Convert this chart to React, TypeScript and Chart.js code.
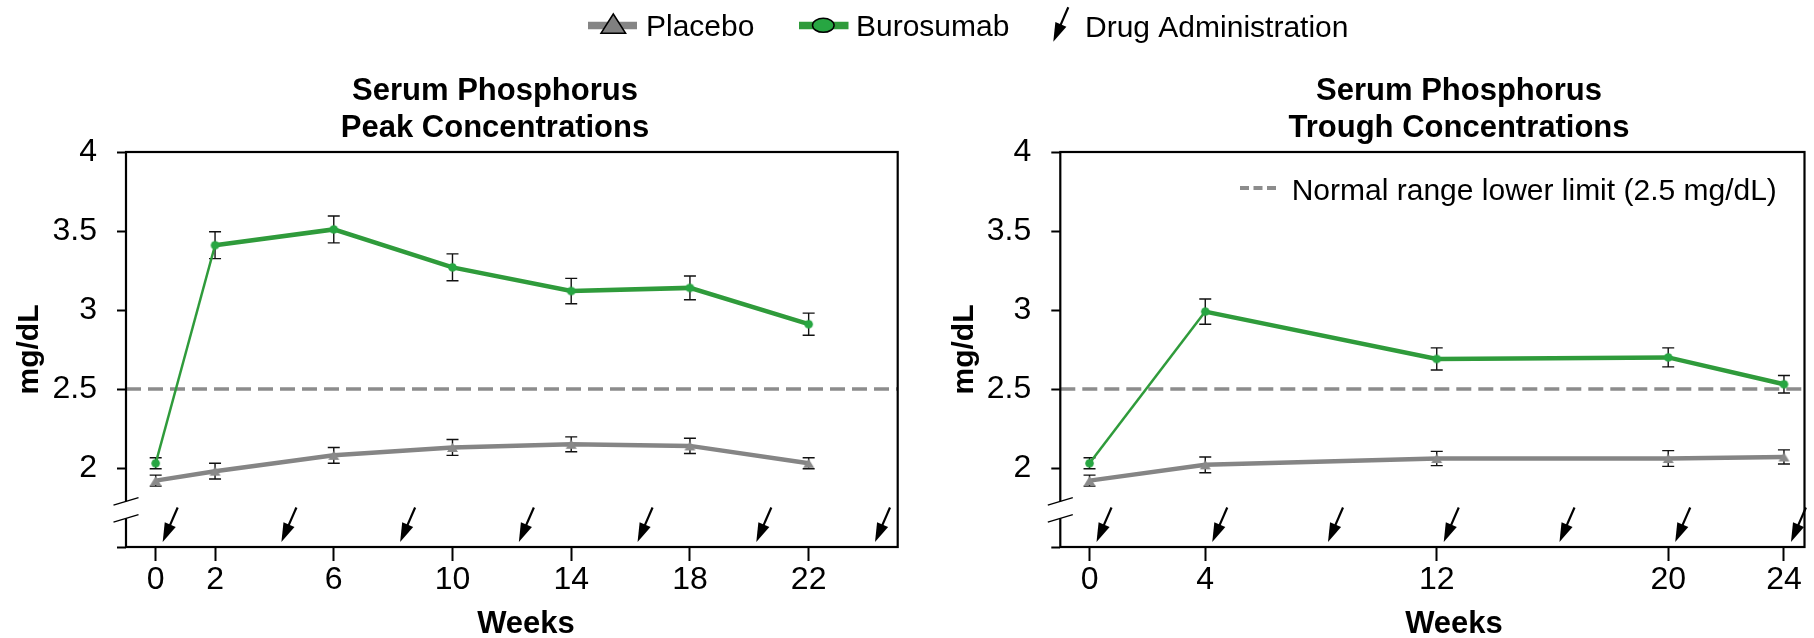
import React, { useEffect, useRef } from 'react';
import { Chart, registerables } from 'chart.js';

Chart.register(...registerables);

// ---------- data ----------
const PEAK_WEEKS = [0, 2, 6, 10, 14, 18, 22];
const PEAK_BURO = [2.03, 3.41, 3.51, 3.27, 3.12, 3.14, 2.91];
const PEAK_BURO_ERR = [0.035, 0.085, 0.085, 0.085, 0.08, 0.075, 0.07];
const PEAK_PLAC = [1.92, 1.98, 2.08, 2.13, 2.15, 2.14, 2.03];
const PEAK_PLAC_ERR = [0.035, 0.05, 0.05, 0.05, 0.047, 0.048, 0.035];
const PEAK_TICKS = [0, 2, 6, 10, 14, 18, 22];
const PEAK_DOSES = [0, 4, 8, 12, 16, 20, 24];

const TROUGH_WEEKS = [0, 4, 12, 20, 24];
const TROUGH_BURO = [2.03, 2.99, 2.69, 2.7, 2.53];
const TROUGH_BURO_ERR = [0.035, 0.08, 0.07, 0.06, 0.055];
const TROUGH_PLAC = [1.92, 2.02, 2.06, 2.06, 2.07];
const TROUGH_PLAC_ERR = [0.035, 0.05, 0.045, 0.05, 0.045];
const TROUGH_TICKS = [0, 4, 12, 20, 24];
const TROUGH_DOSES = [0, 4, 8, 12, 16, 20, 24];

const Y_TICKS = [1.5, 2, 2.5, 3, 3.5, 4];
const Y_LABELS = ['', '2', '2.5', '3', '3.5', '4'];
const NORMAL_LOWER = 2.5;
const Y_BREAK = 1.735;

const TITLE_PEAK = ['Serum Phosphorus', 'Peak Concentrations'];
const TITLE_TROUGH = ['Serum Phosphorus', 'Trough Concentrations'];
const LEGEND_LABELS = ['Placebo', 'Burosumab', 'Drug Administration'];
const NORMAL_LABEL = 'Normal range lower limit (2.5 mg/dL)';
const X_TITLE = 'Weeks';
const Y_TITLE = 'mg/dL';

// ---------- style ----------
const FONT = "'Liberation Sans', Arial, Helvetica, sans-serif";
const PAGE_W = 1814;
const PAGE_H = 638;

const GREEN = '#2f9b3b';
const GREEN_PT = '#27a642';
const GRAY = '#858585';
const GRAY_PT = '#8a8a8a';
const DASH = '#8c8c8c';

const TICK_SIZE = 32;
const LEGEND_SIZE = 30;
const TITLE_SIZE = 31;

type Panel = {
  weeks: number[]; buro: number[]; buroErr: number[]; plac: number[]; placErr: number[];
  ticks: number[]; doses: number[]; xMin: number; xMax: number;
  areaLeft: number; areaRight: number; title: string[]; titleX: number; weeksX: number; legend: 'main' | 'normal';
};

const PEAK: Panel = {
  weeks: PEAK_WEEKS, buro: PEAK_BURO, buroErr: PEAK_BURO_ERR, plac: PEAK_PLAC, placErr: PEAK_PLAC_ERR,
  ticks: PEAK_TICKS, doses: PEAK_DOSES, xMin: -1, xMax: 25,
  areaLeft: 126, areaRight: 897.7, title: TITLE_PEAK, titleX: 495, weeksX: 526, legend: 'main',
};
const TROUGH: Panel = {
  weeks: TROUGH_WEEKS, buro: TROUGH_BURO, buroErr: TROUGH_BURO_ERR, plac: TROUGH_PLAC, placErr: TROUGH_PLAC_ERR,
  ticks: TROUGH_TICKS, doses: TROUGH_DOSES, xMin: -1.01, xMax: 24.71,
  areaLeft: 1060.3, areaRight: 1812, title: TITLE_TROUGH, titleX: 1459, weeksX: 1454, legend: 'normal',
};

const Y_AXIS_W = 126;
const TOP = 152;
const X_AXIS_H = 91;

function makeDot(r: number, fill: string) {
  const c = document.createElement('canvas');
  c.width = Math.ceil(2 * r + 4);
  c.height = Math.ceil(2 * r + 4);
  const g = c.getContext('2d')!;
  g.beginPath();
  g.arc(c.width / 2, c.height / 2, r, 0, Math.PI * 2);
  g.fillStyle = fill;
  g.fill();
  return c;
}

function makeTri(w: number, h: number, fill: string) {
  const c = document.createElement('canvas');
  c.width = Math.ceil(w + 4);
  c.height = Math.ceil(h + 4);
  const g = c.getContext('2d')!;
  const cx = c.width / 2;
  const top = (c.height - h) / 2;
  g.beginPath();
  g.moveTo(cx, top);
  g.lineTo(cx + w / 2, top + h);
  g.lineTo(cx - w / 2, top + h);
  g.closePath();
  g.fillStyle = fill;
  g.fill();
  return c;
}

function drawArrow(ctx: CanvasRenderingContext2D, tipX: number, tipY: number) {
  const tailX = tipX + 15;
  const tailY = tipY - 34.5;
  const dx = tipX - tailX;
  const dy = tipY - tailY;
  const len = Math.hypot(dx, dy);
  const ux = dx / len;
  const uy = dy / len;
  const headLen = 19;
  const halfW = 6;
  const bx = tipX - ux * headLen;
  const by = tipY - uy * headLen;
  ctx.save();
  ctx.strokeStyle = '#000';
  ctx.fillStyle = '#000';
  ctx.lineWidth = 2.2;
  ctx.beginPath();
  ctx.moveTo(tailX, tailY);
  ctx.lineTo(bx + ux * 2, by + uy * 2);
  ctx.stroke();
  ctx.beginPath();
  ctx.moveTo(tipX, tipY);
  ctx.lineTo(bx - uy * halfW, by + ux * halfW);
  ctx.lineTo(bx + uy * halfW, by - ux * halfW);
  ctx.closePath();
  ctx.fill();
  ctx.restore();
}

function panelDecor(p: Panel) {
  return {
    id: 'panelDecor',
    beforeDatasetsDraw(chart: any) {
      const { ctx, chartArea: a, scales } = chart;
      const x = scales.x;
      const y = scales.y;
      ctx.save();
      const yn = y.getPixelForValue(NORMAL_LOWER);
      ctx.strokeStyle = DASH;
      ctx.lineWidth = 3.5;
      ctx.setLineDash([15, 7]);
      ctx.beginPath();
      ctx.moveTo(a.left, yn);
      ctx.lineTo(a.right, yn);
      ctx.stroke();
      ctx.setLineDash([]);
      ctx.strokeStyle = '#111';
      ctx.lineWidth = 1.4;
      const cap = 6;
      const bar = (w: number, v: number, e: number) => {
        const px = x.getPixelForValue(w);
        const t = y.getPixelForValue(v + e);
        const b = y.getPixelForValue(v - e);
        ctx.beginPath();
        ctx.moveTo(px, t); ctx.lineTo(px, b);
        ctx.moveTo(px - cap, t); ctx.lineTo(px + cap, t);
        ctx.moveTo(px - cap, b); ctx.lineTo(px + cap, b);
        ctx.stroke();
      };
      p.weeks.forEach((w, i) => {
        bar(w, p.buro[i], p.buroErr[i]);
        bar(w, p.plac[i], p.placErr[i]);
      });
      ctx.restore();
    },
    afterDraw(chart: any) {
      const { ctx, chartArea: a, scales } = chart;
      const x = scales.x;
      const y = scales.y;
      ctx.save();
      // frame
      ctx.strokeStyle = '#000';
      ctx.lineWidth = 2.2;
      ctx.strokeRect(a.left, a.top, a.right - a.left, a.bottom - a.top);
      // axis break
      const yb = y.getPixelForValue(Y_BREAK);
      ctx.fillStyle = '#fff';
      ctx.fillRect(a.left - 3, yb - 8.5, 6, 17);
      ctx.strokeStyle = '#000';
      ctx.lineWidth = 1.3;
      [yb - 8.5, yb + 8.5].forEach((c) => {
        ctx.beginPath();
        ctx.moveTo(a.left - 12.5, c + 3.7);
        ctx.lineTo(a.left + 12.5, c - 3.7);
        ctx.stroke();
      });
      // dosing arrows
      p.doses.forEach((d) => drawArrow(ctx, x.getPixelForValue(d) + 7, a.bottom - 5));
      // titles
      ctx.fillStyle = '#000';
      ctx.textAlign = 'center';
      ctx.textBaseline = 'alphabetic';
      ctx.font = `bold ${TITLE_SIZE}px ${FONT}`;
      ctx.fillText(p.title[0], p.titleX, 100);
      ctx.fillText(p.title[1], p.titleX, 137);
      ctx.fillText(X_TITLE, p.weeksX, 633);
      // legends
      ctx.textAlign = 'left';
      ctx.font = `${LEGEND_SIZE}px ${FONT}`;
      if (p.legend === 'main') {
        ctx.strokeStyle = GRAY;
        ctx.lineWidth = 7.5;
        ctx.beginPath(); ctx.moveTo(588, 25.5); ctx.lineTo(637, 25.5); ctx.stroke();
        ctx.beginPath();
        ctx.moveTo(613.3, 14);
        ctx.lineTo(625.6, 33.3);
        ctx.lineTo(601, 33.3);
        ctx.closePath();
        ctx.fillStyle = '#808080'; ctx.fill();
        ctx.strokeStyle = '#000'; ctx.lineWidth = 1.5; ctx.stroke();
        ctx.fillStyle = '#000';
        ctx.fillText(LEGEND_LABELS[0], 646, 36);
        ctx.strokeStyle = GREEN;
        ctx.lineWidth = 7.5;
        ctx.beginPath(); ctx.moveTo(799, 25.5); ctx.lineTo(848.5, 25.5); ctx.stroke();
        ctx.beginPath();
        ctx.ellipse(823.3, 25.3, 10.8, 7, 0, 0, Math.PI * 2);
        ctx.fillStyle = GREEN_PT; ctx.fill();
        ctx.strokeStyle = '#000'; ctx.lineWidth = 1.5; ctx.stroke();
        ctx.fillStyle = '#000';
        ctx.fillText(LEGEND_LABELS[1], 856, 36);
        drawArrow(ctx, 1053.3, 41.7);
        ctx.fillText(LEGEND_LABELS[2], 1085, 37.3);
      } else {
        ctx.strokeStyle = DASH;
        ctx.lineWidth = 4;
        ctx.setLineDash([9, 4.5]);
        ctx.beginPath(); ctx.moveTo(1240, 188); ctx.lineTo(1278, 188); ctx.stroke();
        ctx.setLineDash([]);
        ctx.fillStyle = '#000';
        ctx.fillText(NORMAL_LABEL, 1291.7, 200);
      }
      ctx.restore();
    },
  };
}

function buildConfig(p: Panel, dot: HTMLCanvasElement, tri: HTMLCanvasElement): any {
  const tickFont = { family: FONT, size: TICK_SIZE };
  return {
    type: 'line',
    data: {
      datasets: [
        {
          label: LEGEND_LABELS[0],
          data: p.weeks.map((w, i) => ({ x: w, y: p.plac[i] })),
          borderColor: GRAY,
          backgroundColor: GRAY_PT,
          borderWidth: 4.5,
          pointStyle: tri,
          pointRadius: 5,
          pointHoverRadius: 5,
          tension: 0,
          order: 2,
        },
        {
          label: LEGEND_LABELS[1],
          data: p.weeks.map((w, i) => ({ x: w, y: p.buro[i] })),
          borderColor: GREEN,
          backgroundColor: GREEN_PT,
          borderWidth: 4.5,
          segment: { borderWidth: (c: any) => (c.p0DataIndex === 0 ? 2.5 : 4.5) },
          pointStyle: dot,
          pointRadius: 4.5,
          pointHoverRadius: 4.5,
          tension: 0,
          order: 1,
        },
      ],
    },
    options: {
      responsive: false,
      animation: false,
      devicePixelRatio: 1,
      events: [],
      layout: {
        padding: {
          left: p.areaLeft - Y_AXIS_W,
          right: PAGE_W - p.areaRight,
          top: TOP,
          bottom: 0,
        },
      },
      plugins: { legend: { display: false }, title: { display: false }, tooltip: { enabled: false } },
      scales: {
        x: {
          type: 'linear',
          min: p.xMin,
          max: p.xMax,
          afterBuildTicks: (s: any) => { s.ticks = p.ticks.map((v) => ({ value: v })); },
          afterFit: (s: any) => { s.height = X_AXIS_H; },
          ticks: { font: tickFont, color: '#000', padding: 0, autoSkip: false, maxRotation: 0, callback: (v: any) => String(v) },
          grid: { drawOnChartArea: false, drawTicks: true, tickLength: 14, tickWidth: 2, tickColor: '#000' },
          border: { display: false },
        },
        y: {
          type: 'linear',
          min: Y_TICKS[0],
          max: Y_TICKS[Y_TICKS.length - 1],
          afterBuildTicks: (s: any) => { s.ticks = Y_TICKS.map((v) => ({ value: v })); },
          afterFit: (s: any) => { s.width = Y_AXIS_W; },
          ticks: {
            font: tickFont, color: '#000', padding: 20, autoSkip: false,
            callback: (v: any) => { const i = Y_TICKS.indexOf(v); return i >= 0 ? Y_LABELS[i] : ''; },
          },
          grid: { drawOnChartArea: false, drawTicks: true, tickLength: 9, tickWidth: 2, tickColor: '#000' },
          border: { display: false },
          title: { display: true, text: Y_TITLE, color: '#000', font: { family: FONT, size: 30, weight: 'bold' }, padding: { top: 12, bottom: 0 } },
        },
      },
    },
    plugins: [panelDecor(p)],
  };
}

export default function App() {
  const leftRef = useRef<HTMLCanvasElement>(null);
  const rightRef = useRef<HTMLCanvasElement>(null);
  useEffect(() => {
    document.body.style.margin = '0';
    const dot = makeDot(4.3, GREEN_PT);
    const tri = makeTri(11, 9, GRAY_PT);
    const c1 = new Chart(leftRef.current!, buildConfig(PEAK, dot, tri));
    const c2 = new Chart(rightRef.current!, buildConfig(TROUGH, dot, tri));
    return () => { c1.destroy(); c2.destroy(); };
  }, []);
  const cs: React.CSSProperties = { position: 'absolute', left: 0, top: 0, width: PAGE_W, height: PAGE_H };
  return (
    <div style={{ position: 'fixed', left: 0, top: 0, width: PAGE_W, height: PAGE_H, background: '#fff' }}>
      <canvas ref={leftRef} width={PAGE_W} height={PAGE_H} style={cs} />
      <canvas ref={rightRef} width={PAGE_W} height={PAGE_H} style={cs} />
    </div>
  );
}
